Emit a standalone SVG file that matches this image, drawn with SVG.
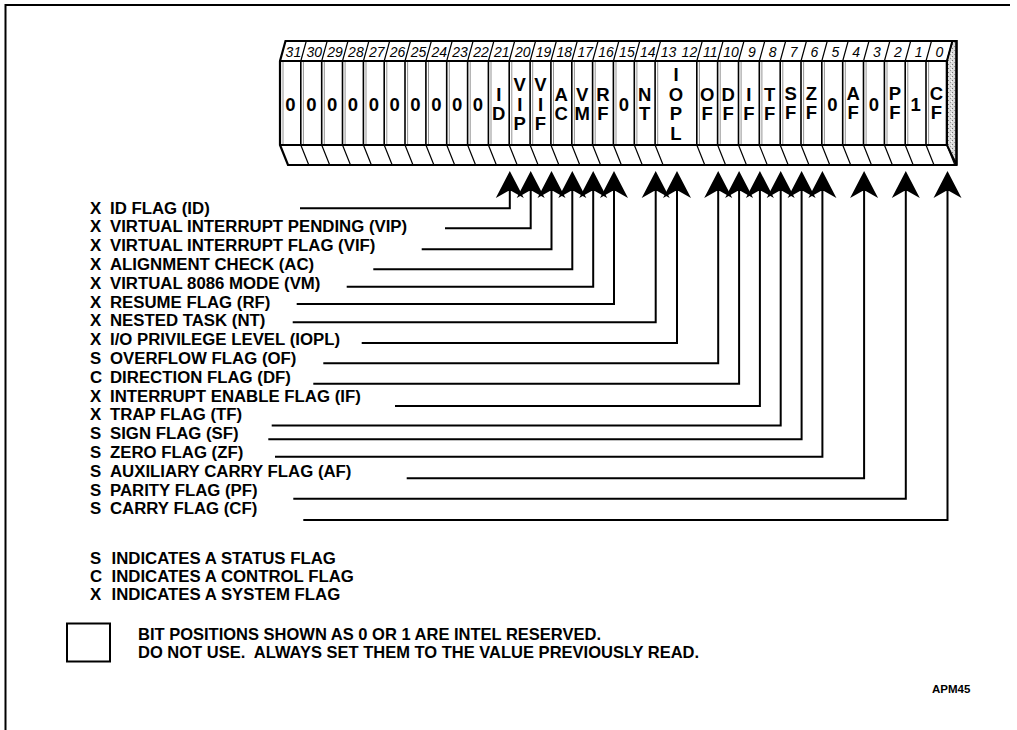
<svg xmlns="http://www.w3.org/2000/svg" width="1017" height="730" viewBox="0 0 1017 730">
<style>
.lbl{font-family:"Liberation Sans",Arial,sans-serif;font-weight:bold;font-size:16.8px;fill:#000}
.leg{font-family:"Liberation Sans",Arial,sans-serif;font-weight:bold;font-size:16.5px;fill:#000}
.cell{font-family:"Liberation Sans",Arial,sans-serif;font-weight:bold;font-size:18.5px;text-anchor:middle;fill:#000}
.num{font-family:"Liberation Sans",Arial,sans-serif;font-style:italic;font-size:14px;text-anchor:middle;fill:#000}
.conn{fill:none;stroke:#000;stroke-width:2;marker-end:url(#ah)}
.out{fill:none;stroke:#000;stroke-width:2.2;stroke-linejoin:miter}
.div{stroke:#000;stroke-width:1.6}
.shd{stroke:#666;stroke-width:0.7}
.thin{stroke:#000;stroke-width:1.2}
</style>
<defs>
<marker id="ah" markerUnits="userSpaceOnUse" viewBox="-28 -15 30 30" refX="-6" refY="0" markerWidth="30" markerHeight="30" orient="auto">
<path d="M0,0 L-27,-14 L-20,-1.6 L-20,1.6 L-27,14 Z" fill="#000"/>
</marker>
<pattern id="stip" width="4" height="4" patternUnits="userSpaceOnUse">
<rect width="4" height="4" fill="#dcdcdc"/>
<rect x="0" y="0" width="1" height="1" fill="#777"/>
<rect x="2" y="2" width="1" height="1" fill="#999"/>
<rect x="3" y="1" width="1" height="1" fill="#fff"/>
</pattern>
</defs>

<g id="frame">
<path d="M5.5,730 V5 H1010" fill="none" stroke="#000" stroke-width="2"/>
</g>

<g id="register">
<polygon points="946.9,61 952.4,41 956.5,41 956.5,165 946.9,145" fill="url(#stip)" stroke="#000" stroke-width="2"/>
<path class="out" d="M280,61 L285.5,41 H956.5 V165 H288 L280,145 Z"/>
<path class="out" d="M280,61 H946.9 V145 H280"/>
<path class="thin" d="M946.9,145 L954.9,165"/>
<g id="header-slashes" class="thin">
<path d="M300.8,61 L306.3,41 M321.7,61 L327.2,41 M342.5,61 L348,41 M363.4,61 L368.9,41 M384.2,61 L389.7,41 M405,61 L410.5,41 M425.9,61 L431.4,41 M446.7,61 L452.2,41 M467.6,61 L473.1,41 M488.4,61 L493.9,41 M509.2,61 L514.7,41 M530.1,61 L535.6,41 M550.9,61 L556.4,41 M571.8,61 L577.3,41 M592.6,61 L598.1,41 M613.4,61 L618.9,41 M634.3,61 L639.8,41 M655.1,61 L660.6,41 M696.8,61 L702.3,41 M717.6,61 L723.1,41 M738.5,61 L744,41 M759.3,61 L764.8,41 M780.2,61 L785.7,41 M801,61 L806.5,41 M821.8,61 L827.3,41 M842.7,61 L848.2,41 M863.5,61 L869,41 M884.4,61 L889.9,41 M905.2,61 L910.7,41 M926,61 L931.5,41 M946.9,61 L952.4,41"/>
</g>
<g id="bottom-slashes" class="thin">
<path d="M300.8,145 L308.8,165 M321.7,145 L329.7,165 M342.5,145 L350.5,165 M363.4,145 L371.4,165 M384.2,145 L392.2,165 M405,145 L413,165 M425.9,145 L433.9,165 M446.7,145 L454.7,165 M467.6,145 L475.6,165 M488.4,145 L496.4,165 M509.2,145 L517.2,165 M530.1,145 L538.1,165 M550.9,145 L558.9,165 M571.8,145 L579.8,165 M592.6,145 L600.6,165 M613.4,145 L621.4,165 M634.3,145 L642.3,165 M655.1,145 L663.1,165 M696.8,145 L704.8,165 M717.6,145 L725.6,165 M738.5,145 L746.5,165 M759.3,145 L767.3,165 M780.2,145 L788.2,165 M801,145 L809,165 M821.8,145 L829.8,165 M842.7,145 L850.7,165 M863.5,145 L871.5,165 M884.4,145 L892.4,165 M905.2,145 L913.2,165 M926,145 L934,165"/>
</g>
<g id="cell-dividers">
<path class="div" d="M300.8,61 V145 M321.7,61 V145 M342.5,61 V145 M363.4,61 V145 M384.2,61 V145 M405,61 V145 M425.9,61 V145 M446.7,61 V145 M467.6,61 V145 M488.4,61 V145 M509.2,61 V145 M530.1,61 V145 M550.9,61 V145 M571.8,61 V145 M592.6,61 V145 M613.4,61 V145 M634.3,61 V145 M655.1,61 V145 M696.8,61 V145 M717.6,61 V145 M738.5,61 V145 M759.3,61 V145 M780.2,61 V145 M801,61 V145 M821.8,61 V145 M842.7,61 V145 M863.5,61 V145 M884.4,61 V145 M905.2,61 V145 M926,61 V145"/>
<path class="shd" d="M283,62 V144 M303.4,62 V144 M324.3,62 V144 M345.1,62 V144 M366,62 V144 M386.8,62 V144 M407.6,62 V144 M428.5,62 V144 M449.3,62 V144 M470.2,62 V144 M491,62 V144 M511.8,62 V144 M532.7,62 V144 M553.5,62 V144 M574.4,62 V144 M595.2,62 V144 M616,62 V144 M636.9,62 V144 M657.7,62 V144 M699.4,62 V144 M720.2,62 V144 M741.1,62 V144 M761.9,62 V144 M782.8,62 V144 M803.6,62 V144 M824.4,62 V144 M845.3,62 V144 M866.1,62 V144 M887,62 V144 M907.8,62 V144 M928.6,62 V144"/>
</g>
<g id="bit-numbers">
<text class="num" x="293.4" y="56.5">31</text>
<text class="num" x="314.3" y="56.5">30</text>
<text class="num" x="335.1" y="56.5">29</text>
<text class="num" x="355.9" y="56.5">28</text>
<text class="num" x="376.8" y="56.5">27</text>
<text class="num" x="397.6" y="56.5">26</text>
<text class="num" x="418.5" y="56.5">25</text>
<text class="num" x="439.3" y="56.5">24</text>
<text class="num" x="460.1" y="56.5">23</text>
<text class="num" x="481" y="56.5">22</text>
<text class="num" x="501.8" y="56.5">21</text>
<text class="num" x="522.7" y="56.5">20</text>
<text class="num" x="543.5" y="56.5">19</text>
<text class="num" x="564.3" y="56.5">18</text>
<text class="num" x="585.2" y="56.5">17</text>
<text class="num" x="606" y="56.5">16</text>
<text class="num" x="626.9" y="56.5">15</text>
<text class="num" x="647.7" y="56.5">14</text>
<text class="num" x="668.5" y="56.5">13</text>
<text class="num" x="689.4" y="56.5">12</text>
<text class="num" x="710.2" y="56.5">11</text>
<text class="num" x="731.1" y="56.5">10</text>
<text class="num" x="751.9" y="56.5">9</text>
<text class="num" x="772.7" y="56.5">8</text>
<text class="num" x="793.6" y="56.5">7</text>
<text class="num" x="814.4" y="56.5">6</text>
<text class="num" x="835.3" y="56.5">5</text>
<text class="num" x="856.1" y="56.5">4</text>
<text class="num" x="876.9" y="56.5">3</text>
<text class="num" x="897.8" y="56.5">2</text>
<text class="num" x="918.6" y="56.5">1</text>
<text class="num" x="939.5" y="56.5">0</text>
</g>
<g id="cells">
<g id="bit31"><text class="cell" x="290.4" y="110.5">0</text></g>
<g id="bit30"><text class="cell" x="311.3" y="110.5">0</text></g>
<g id="bit29"><text class="cell" x="332.1" y="110.5">0</text></g>
<g id="bit28"><text class="cell" x="352.9" y="110.5">0</text></g>
<g id="bit27"><text class="cell" x="373.8" y="110.5">0</text></g>
<g id="bit26"><text class="cell" x="394.6" y="110.5">0</text></g>
<g id="bit25"><text class="cell" x="415.5" y="110.5">0</text></g>
<g id="bit24"><text class="cell" x="436.3" y="110.5">0</text></g>
<g id="bit23"><text class="cell" x="457.1" y="110.5">0</text></g>
<g id="bit22"><text class="cell" x="478" y="110.5">0</text></g>
<g id="bit21-ID"><text class="cell" x="498.8" y="100.7">I</text><text class="cell" x="498.8" y="120.2">D</text></g>
<g id="bit20-VIP"><text class="cell" x="519.7" y="91">V</text><text class="cell" x="519.7" y="110.5">I</text><text class="cell" x="519.7" y="130">P</text></g>
<g id="bit19-VIF"><text class="cell" x="540.5" y="91">V</text><text class="cell" x="540.5" y="110.5">I</text><text class="cell" x="540.5" y="130">F</text></g>
<g id="bit18-AC"><text class="cell" x="561.3" y="100.7">A</text><text class="cell" x="561.3" y="120.2">C</text></g>
<g id="bit17-VM"><text class="cell" x="582.2" y="100.7">V</text><text class="cell" x="582.2" y="120.2">M</text></g>
<g id="bit16-RF"><text class="cell" x="603" y="100.7">R</text><text class="cell" x="603" y="120.2">F</text></g>
<g id="bit15"><text class="cell" x="623.9" y="110.5">0</text></g>
<g id="bit14-NT"><text class="cell" x="644.7" y="100.7">N</text><text class="cell" x="644.7" y="120.2">T</text></g>
<g id="bit13-12-IOPL"><text class="cell" x="676" y="81.2">I</text><text class="cell" x="676" y="100.7">O</text><text class="cell" x="676" y="120.2">P</text><text class="cell" x="676" y="139.7">L</text></g>
<g id="bit11-OF"><text class="cell" x="707.2" y="100.7">O</text><text class="cell" x="707.2" y="120.2">F</text></g>
<g id="bit10-DF"><text class="cell" x="728.1" y="100.7">D</text><text class="cell" x="728.1" y="120.2">F</text></g>
<g id="bit9-IF"><text class="cell" x="748.9" y="100.7">I</text><text class="cell" x="748.9" y="120.2">F</text></g>
<g id="bit8-TF"><text class="cell" x="769.7" y="100.7">T</text><text class="cell" x="769.7" y="120.2">F</text></g>
<g id="bit7-SF"><text class="cell" x="790.6" y="99.5">S</text><text class="cell" x="790.6" y="119">F</text></g>
<g id="bit6-ZF"><text class="cell" x="811.4" y="99.5">Z</text><text class="cell" x="811.4" y="119">F</text></g>
<g id="bit5"><text class="cell" x="832.3" y="110.5">0</text></g>
<g id="bit4-AF"><text class="cell" x="853.1" y="99.5">A</text><text class="cell" x="853.1" y="119">F</text></g>
<g id="bit3"><text class="cell" x="873.9" y="110.5">0</text></g>
<g id="bit2-PF"><text class="cell" x="894.8" y="99.5">P</text><text class="cell" x="894.8" y="119">F</text></g>
<g id="bit1"><text class="cell" x="915.6" y="110.5">1</text></g>
<g id="bit0-CF"><text class="cell" x="936.5" y="99.5">C</text><text class="cell" x="936.5" y="119">F</text></g>
</g>
</g>

<g id="labels">
<g id="lbl-ID"><text class="lbl" x="90" y="213.5">X</text><text class="lbl" x="110" y="213.5">ID FLAG (ID)</text></g>
<g id="lbl-VIP"><text class="lbl" x="90" y="232.3">X</text><text class="lbl" x="110" y="232.3">VIRTUAL INTERRUPT PENDING (VIP)</text></g>
<g id="lbl-VIF"><text class="lbl" x="90" y="251.1">X</text><text class="lbl" x="110" y="251.1">VIRTUAL INTERRUPT FLAG (VIF)</text></g>
<g id="lbl-AC"><text class="lbl" x="90" y="269.9">X</text><text class="lbl" x="110" y="269.9">ALIGNMENT CHECK (AC)</text></g>
<g id="lbl-VM"><text class="lbl" x="90" y="288.7">X</text><text class="lbl" x="110" y="288.7">VIRTUAL 8086 MODE (VM)</text></g>
<g id="lbl-RF"><text class="lbl" x="90" y="307.5">X</text><text class="lbl" x="110" y="307.5">RESUME FLAG (RF)</text></g>
<g id="lbl-NT"><text class="lbl" x="90" y="326.3">X</text><text class="lbl" x="110" y="326.3">NESTED TASK (NT)</text></g>
<g id="lbl-IOPL"><text class="lbl" x="90" y="345.1">X</text><text class="lbl" x="110" y="345.1">I/O PRIVILEGE LEVEL (IOPL)</text></g>
<g id="lbl-OF"><text class="lbl" x="90" y="363.9">S</text><text class="lbl" x="110" y="363.9">OVERFLOW FLAG (OF)</text></g>
<g id="lbl-DF"><text class="lbl" x="90" y="382.7">C</text><text class="lbl" x="110" y="382.7">DIRECTION FLAG (DF)</text></g>
<g id="lbl-IF"><text class="lbl" x="90" y="401.5">X</text><text class="lbl" x="110" y="401.5">INTERRUPT ENABLE FLAG (IF)</text></g>
<g id="lbl-TF"><text class="lbl" x="90" y="420.3">X</text><text class="lbl" x="110" y="420.3">TRAP FLAG (TF)</text></g>
<g id="lbl-SF"><text class="lbl" x="90" y="439.1">S</text><text class="lbl" x="110" y="439.1">SIGN FLAG (SF)</text></g>
<g id="lbl-ZF"><text class="lbl" x="90" y="457.9">S</text><text class="lbl" x="110" y="457.9">ZERO FLAG (ZF)</text></g>
<g id="lbl-AF"><text class="lbl" x="90" y="476.7">S</text><text class="lbl" x="110" y="476.7">AUXILIARY CARRY FLAG (AF)</text></g>
<g id="lbl-PF"><text class="lbl" x="90" y="495.5">S</text><text class="lbl" x="110" y="495.5">PARITY FLAG (PF)</text></g>
<g id="lbl-CF"><text class="lbl" x="90" y="514.3">S</text><text class="lbl" x="110" y="514.3">CARRY FLAG (CF)</text></g>
</g>

<g id="connectors">
<path class="conn" d="M300,208.3 H509.8 V177"/>
<path class="conn" d="M445,228.3 H530.7 V177"/>
<path class="conn" d="M421.7,249.3 H551.5 V177"/>
<path class="conn" d="M373.3,269.3 H572.3 V177"/>
<path class="conn" d="M346.7,286.7 H593.2 V177"/>
<path class="conn" d="M296.7,304 H614 V177"/>
<path class="conn" d="M292.7,322.3 H655.7 V177"/>
<path class="conn" d="M361.7,343 H677 V177"/>
<path class="conn" d="M323.3,363.3 H718.2 V177"/>
<path class="conn" d="M313.3,383.7 H739.1 V177"/>
<path class="conn" d="M395,406 H759.9 V177"/>
<path class="conn" d="M271.7,425.5 H780.7 V177"/>
<path class="conn" d="M268.3,439.2 H801.6 V177"/>
<path class="conn" d="M275,456.7 H822.4 V177"/>
<path class="conn" d="M406.7,478.2 H864.1 V177"/>
<path class="conn" d="M293.3,498.7 H905.8 V177"/>
<path class="conn" d="M303.3,520 H947.5 V177"/>
</g>

<g id="legend">
<g id="leg-S"><text class="lbl" x="90" y="563.5">S</text><text class="lbl" x="111.5" y="563.5">INDICATES A STATUS FLAG</text></g>
<g id="leg-C"><text class="lbl" x="90" y="581.5">C</text><text class="lbl" x="111.5" y="581.5">INDICATES A CONTROL FLAG</text></g>
<g id="leg-X"><text class="lbl" x="90" y="599.5">X</text><text class="lbl" x="111.5" y="599.5">INDICATES A SYSTEM FLAG</text></g>
<g id="leg-reserved">
<rect x="67" y="623.5" width="43" height="38" fill="#fff" stroke="#000" stroke-width="2"/>
<text class="leg" x="138" y="640">BIT POSITIONS SHOWN AS 0 OR 1 ARE INTEL RESERVED.</text>
<text class="leg" x="138" y="658" xml:space="preserve">DO NOT USE.  ALWAYS SET THEM TO THE VALUE PREVIOUSLY READ.</text>
</g>
<text x="932" y="693" font-family="Liberation Sans, Arial, sans-serif" font-weight="bold" font-size="11.5">APM45</text>
</g>
</svg>
